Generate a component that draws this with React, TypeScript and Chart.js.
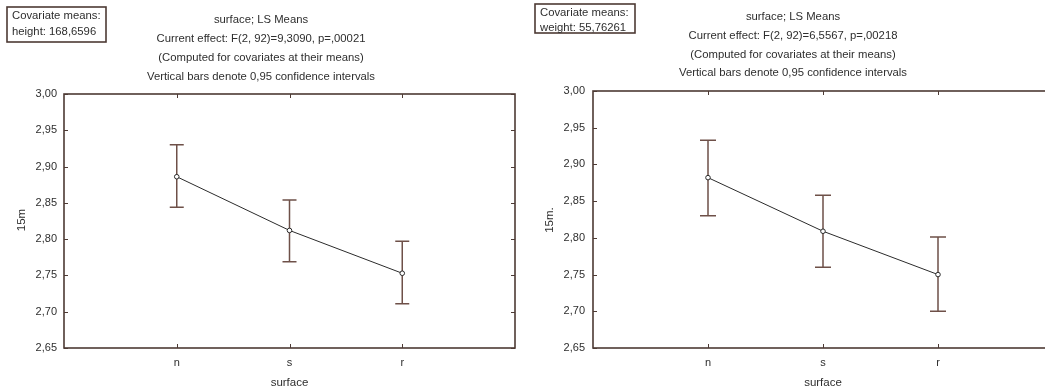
import React, { useEffect, useRef } from "react";
import { Chart, registerables } from "chart.js";

Chart.register(...registerables);

const categories = ["n", "s", "r"];

const leftMeans = [2.886, 2.812, 2.753];
const leftLower = [2.844, 2.769, 2.711];
const leftUpper = [2.93, 2.854, 2.797];

const rightMeans = [2.882, 2.809, 2.75];
const rightLower = [2.83, 2.76, 2.7];
const rightUpper = [2.933, 2.858, 2.801];

const yMin = 2.65;
const yMax = 3.0;
const yStep = 0.05;

const leftTitle = [
  "surface; LS Means",
  "Current effect: F(2, 92)=9,3090, p=,00021",
  "(Computed for covariates at their means)",
  "Vertical bars denote 0,95 confidence intervals",
];
const rightTitle = [
  "surface; LS Means",
  "Current effect: F(2, 92)=6,5567, p=,00218",
  "(Computed for covariates at their means)",
  "Vertical bars denote 0,95 confidence intervals",
];
const leftBox = ["Covariate means:", "height: 168,6596"];
const rightBox = ["Covariate means:", "weight: 55,76261"];
const leftYTitle = "15m";
const rightYTitle = "15m.";
const xTitle = "surface";

const FONT = '"Liberation Sans", Arial, sans-serif';
const TEXT = "#2e2e2e";
const FRAME = "#4d3a34";
const BAR = "#6e5048";

type Cfg = {
  width: number;
  offsetX: number;
  yWidth: number;
  padTop: number;
  padRight: number;
  means: number[];
  lower: number[];
  upper: number[];
  title: string[];
  titleX: number;
  titleY: number[];
  box: string[];
  boxRect: [number, number, number, number];
  boxTextX: number;
  boxTextY: number[];
  yTitle: string;
  yTitleX: number;
  yTitleY: number;
  xTitleY: number;
  cap: number;
  yLabelPad: number;
};

function ChartPanel({ cfg }: { cfg: Cfg }) {
  const ref = useRef<HTMLCanvasElement | null>(null);
  useEffect(() => {
    if (!ref.current) return;
    const decorPlugin = {
      id: "decor",
      beforeDatasetsDraw(chart: any) {
        const ctx = chart.ctx;
        const xs = chart.scales.x;
        const ys = chart.scales.y;
        ctx.save();
        ctx.strokeStyle = BAR;
        ctx.lineWidth = 1.5;
        cfg.means.forEach((_, i) => {
          const px = xs.getPixelForValue(i + 1);
          const yl = ys.getPixelForValue(cfg.lower[i]);
          const yu = ys.getPixelForValue(cfg.upper[i]);
          ctx.beginPath();
          ctx.moveTo(px, yl);
          ctx.lineTo(px, yu);
          ctx.moveTo(px - cfg.cap, yl);
          ctx.lineTo(px + cfg.cap, yl);
          ctx.moveTo(px - cfg.cap, yu);
          ctx.lineTo(px + cfg.cap, yu);
          ctx.stroke();
        });
        ctx.restore();
      },
      afterDraw(chart: any) {
        const ctx = chart.ctx;
        const a = chart.chartArea;
        const xs = chart.scales.x;
        const ys = chart.scales.y;
        ctx.save();
        ctx.strokeStyle = FRAME;
        ctx.lineWidth = 1.6;
        ctx.strokeRect(a.left, a.top, a.right - a.left, a.bottom - a.top);
        ctx.lineWidth = 1;
        ctx.beginPath();
        ys.ticks.forEach((t: any) => {
          const py = Math.round(ys.getPixelForValue(t.value)) + 0.5;
          ctx.moveTo(a.left, py);
          ctx.lineTo(a.left + 4, py);
          ctx.moveTo(a.right, py);
          ctx.lineTo(a.right - 4, py);
        });
        xs.ticks.forEach((t: any) => {
          const px = Math.round(xs.getPixelForValue(t.value)) + 0.5;
          ctx.moveTo(px, a.bottom);
          ctx.lineTo(px, a.bottom - 4);
          ctx.moveTo(px, a.top);
          ctx.lineTo(px, a.top + 4);
        });
        ctx.stroke();
        ctx.fillStyle = TEXT;
        ctx.font = `11.3px ${FONT}`;
        ctx.textAlign = "center";
        ctx.textBaseline = "middle";
        cfg.title.forEach((line, i) => {
          ctx.fillText(line, cfg.titleX - cfg.offsetX, cfg.titleY[i]);
        });
        ctx.font = `11.5px ${FONT}`;
        ctx.fillText(xTitle, (a.left + a.right) / 2, cfg.xTitleY);
        ctx.save();
        ctx.translate(cfg.yTitleX - cfg.offsetX, cfg.yTitleY);
        ctx.rotate(-Math.PI / 2);
        ctx.fillText(cfg.yTitle, 0, 0);
        ctx.restore();
        const [bx, by, bw, bh] = cfg.boxRect;
        ctx.lineWidth = 1.6;
        ctx.strokeStyle = FRAME;
        ctx.strokeRect(bx - cfg.offsetX, by, bw, bh);
        ctx.textAlign = "left";
        ctx.font = `11.3px ${FONT}`;
        cfg.box.forEach((line, i) => {
          ctx.fillText(line, cfg.boxTextX - cfg.offsetX, cfg.boxTextY[i]);
        });
        ctx.restore();
      },
    };

    const chart = new Chart(ref.current, {
      type: "line",
      data: {
        datasets: [
          {
            data: cfg.means.map((v, i) => ({ x: i + 1, y: v })),
            borderColor: "#2b2b2b",
            borderWidth: 1,
            pointRadius: 2.3,
            pointBorderWidth: 1,
            pointBorderColor: "#2b2b2b",
            pointBackgroundColor: "#ffffff",
            tension: 0,
          },
        ],
      },
      options: {
        responsive: false,
        animation: false,
        layout: { padding: { top: cfg.padTop, right: cfg.padRight, left: 0, bottom: 0 } },
        plugins: { legend: { display: false }, tooltip: { enabled: false }, title: { display: false } },
        scales: {
          x: {
            type: "linear",
            min: 0,
            max: 4,
            grid: { display: false, drawTicks: false },
            border: { display: false },
            afterBuildTicks: (s: any) => {
              s.ticks = categories.map((_, i) => ({ value: i + 1 }));
            },
            afterFit: (s: any) => {
              s.height = 44;
            },
            ticks: {
              autoSkip: false,
              maxRotation: 0,
              padding: 8,
              color: TEXT,
              font: { family: FONT, size: 11 },
              callback: (v: any) => categories[Number(v) - 1] ?? "",
            },
          },
          y: {
            type: "linear",
            min: yMin,
            max: yMax,
            grid: { display: false, drawTicks: false },
            border: { display: false },
            afterFit: (s: any) => {
              s.width = cfg.yWidth;
            },
            ticks: {
              stepSize: yStep,
              padding: cfg.yLabelPad,
              color: TEXT,
              font: { family: FONT, size: 11 },
              callback: (v: any) => Number(v).toFixed(2).replace(".", ","),
            },
          },
        },
      },
      plugins: [decorPlugin],
    } as any);
    return () => chart.destroy();
  }, [cfg]);
  return (
    <canvas
      ref={ref}
      width={cfg.width}
      height={392}
      style={{ position: "absolute", left: cfg.offsetX, top: 0, width: cfg.width, height: 392 }}
    />
  );
}

const leftCfg: Cfg = {
  width: 520,
  offsetX: 0,
  yWidth: 64,
  padTop: 94,
  padRight: 5,
  means: leftMeans,
  lower: leftLower,
  upper: leftUpper,
  title: leftTitle,
  titleX: 261,
  titleY: [20, 39, 58, 77],
  box: leftBox,
  boxRect: [7, 7, 99, 35],
  boxTextX: 12,
  boxTextY: [16, 32],
  yTitle: leftYTitle,
  yTitleX: 22,
  yTitleY: 220,
  xTitleY: 383,
  cap: 7,
  yLabelPad: 7,
};

const rightCfg: Cfg = {
  width: 540,
  offsetX: 520,
  yWidth: 73,
  padTop: 91,
  padRight: 7,
  means: rightMeans,
  lower: rightLower,
  upper: rightUpper,
  title: rightTitle,
  titleX: 793,
  titleY: [17, 36, 55, 73],
  box: rightBox,
  boxRect: [535, 4, 100, 29],
  boxTextX: 540,
  boxTextY: [13, 28],
  yTitle: rightYTitle,
  yTitleX: 550,
  yTitleY: 220,
  xTitleY: 383,
  cap: 8,
  yLabelPad: 8,
};

export default function App() {
  return (
    <div
      style={{
        position: "absolute",
        left: 0,
        top: 0,
        width: 1045,
        height: 392,
        overflow: "hidden",
        background: "#ffffff",
      }}
    >
      <ChartPanel cfg={leftCfg} />
      <ChartPanel cfg={rightCfg} />
    </div>
  );
}
